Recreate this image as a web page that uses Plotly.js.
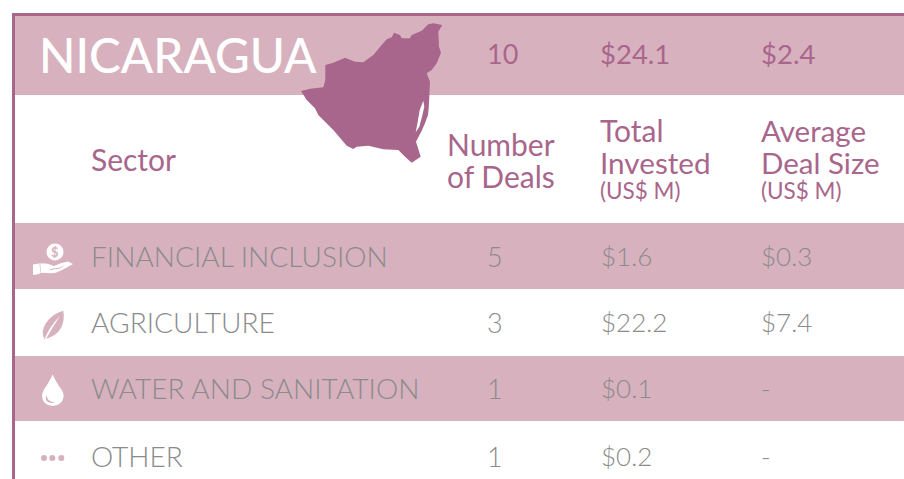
<!DOCTYPE html>
<html><head><meta charset="utf-8">
<script src="https://cdn.plot.ly/plotly-3.0.0.min.js"></script>
<style>html,body{margin:0;padding:0;background:#fff}#c{width:904px;height:479px}</style>
</head><body><div id="c"></div>
<script>
const country = "NICARAGUA";
const totals = ["10", "$24.1", "$2.4"];
const sectors = ["FINANCIAL INCLUSION", "AGRICULTURE", "WATER AND SANITATION", "OTHER"];
const deals = ["5", "3", "1", "1"];
const invested = ["$1.6", "$22.2", "$0.1", "$0.2"];
const avgSize = ["$0.3", "$7.4", "-", "-"];

const DARK = "#a9668c", PINK = "#d8b1bf", GREY = "#8b8b8b";
const FONT = "Lato";
const rowY = [256, 322, 388, 456];
const bands = [[16, 95], [223, 289], [356, 421]];

// outline (crop coordinates)
const outline = [[33,243],[60,236],[100,232],[106,210],[106,165],[130,158],[165,143],[195,155],[220,157],[250,135],[275,105],[290,88],[305,82],[312,68],[330,75],[335,85],[360,85],[365,75],[395,62],[415,43],[430,40],[457,45],[445,65],[447,110],[453,128],[440,160],[425,180],[410,190],[420,215],[418,260],[416,295],[414,315],[405,340],[395,362],[378,395],[392,440],[365,458],[345,440],[325,420],[280,418],[235,407],[200,410],[190,417],[170,407],[130,360],[85,315],[75,295],[50,270]];
const lake = [[400,272],[403,290],[396,320],[388,350],[377,367],[383,335],[389,300]];
const poly = p => "M" + p.map(q => (290+q[0]/3).toFixed(1)+","+(10+q[1]/3).toFixed(1)).join("L") + "Z";

const shapes = [];
const rect = (x0,y0,x1,y1,c) => shapes.push({type:"rect",xref:"x",yref:"y",x0,y0,x1,y1,fillcolor:c,line:{width:0},layer:"below"});
const path = (d,c) => shapes.push({type:"path",xref:"x",yref:"y",path:d,fillcolor:c,line:{width:0},layer:"above"});
const circ = (cx,cy,r,c) => shapes.push({type:"circle",xref:"x",yref:"y",x0:cx-r,x1:cx+r,y0:cy-r,y1:cy+r,fillcolor:c,line:{width:0},layer:"above"});

bands.forEach(b => rect(14,b[0],904,b[1],PINK));
rect(12,13,904,16,DARK);
rect(12,13,15,479,DARK);
path(poly(outline),DARK);
path(poly(lake),"#ffffff");

// hand + coin
circ(55,252,8.5,"#ffffff");
path("M33,264.5L39,263.5L46,263.5Q50,264 54,266L60,263.5L68,261.5L73,264Q66,268 60,271Q55,274 47,273Q41,272 39,274L33,275Z","#ffffff");
path("M39.5,264L40.5,273L41,273L40.2,264Z",PINK);
path("M50,269L60,267.5L66,264L60,268.5L50,270Z",PINK);
// leaf
path("M63.3,310.7Q53,313 46,323Q40,332 45,340L44,339Q56,337 61,328Q65,320 63.3,310.7Z",PINK);
path("M45,338Q50,326 60,316Q52,328 46,339Z","#ffffff");
// drop
path("M52.7,374.5Q48,384 44,389.5Q42,393 42,396Q42.5,405 52.7,406Q63,405 63.7,396Q63.7,393 61.5,389.5Q57,384 52.7,374.5Z","#ffffff");
path("M46.5,395Q47,402 55,402.5Q50,404 46.5,401Q45,398 46.5,395Z",PINK);
// dots
[44,52.3,61.3].forEach(x => circ(x,458,3,PINK));

const annotations = [];
const txt = (text,x,y,size,color,anchor,weight) => annotations.push({
  text,x,y,xref:"x",yref:"y",showarrow:false,xanchor:anchor||"left",yanchor:"middle",
  font:{family:FONT,size,color,weight:weight||400},borderpad:0});

txt(country,38,54,47.7,"#ffffff","left",500);
txt("$",55,252,13,PINK,"center",700);
txt(totals[0],502,53,27,DARK,"center");
txt(totals[1],599,53,27.5,DARK);
txt(totals[2],760,53,27.5,DARK);

txt("Sector",90,159,30,DARK);
txt("Number",446,144,30,DARK);
txt("of Deals",446,176,30,DARK);
txt("Total",599,130,30,DARK);
txt("Invested",599,162,29.7,DARK);
txt("(US$ M)",599,190,22.5,DARK);
txt("Average",760,130,29.5,DARK);
txt("Deal Size",760,162,29.5,DARK);
txt("(US$ M)",760,190,22.5,DARK);

sectors.forEach((s,i) => {
  txt(s,90,rowY[i],28.1,GREY,"left",300);
  txt(deals[i],495,rowY[i],27,GREY,"center",300);
  txt(invested[i],600,rowY[i],26,GREY,"left",300);
  txt(avgSize[i],760,rowY[i],26,GREY,"left",300);
});

Plotly.newPlot("c",[{type:"scatter",x:[0,904],y:[0,479],mode:"markers",marker:{opacity:0},hoverinfo:"skip",showlegend:false}],{
  width:904,height:479,margin:{l:0,r:0,t:0,b:0},
  paper_bgcolor:"#ffffff",plot_bgcolor:"#ffffff",showlegend:false,
  xaxis:{range:[0,904],visible:false,fixedrange:true},
  yaxis:{range:[479,0],visible:false,fixedrange:true},
  shapes,annotations
},{displayModeBar:false,staticPlot:true});
</script></body></html>
